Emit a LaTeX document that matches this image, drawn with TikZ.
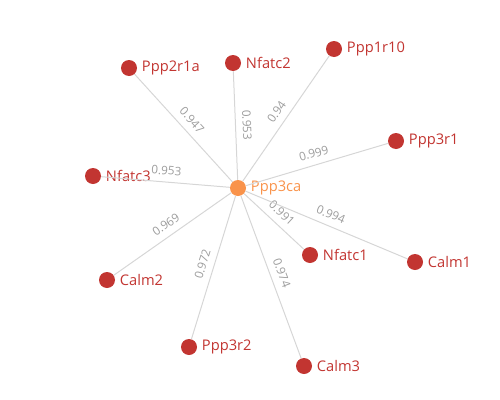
\documentclass[tikz,border=0pt]{standalone}
\usepackage{fontspec}
\setmainfont{Open Sans}
\definecolor{genered}{HTML}{C23531}
\definecolor{huborange}{HTML}{F9934B}
\definecolor{edgegray}{HTML}{D6D6D6}
\definecolor{weightgray}{HTML}{9C9C9C}
\tikzset{
	gene/.style = {circle, fill = genered, minimum size = 12pt, inner sep = 0pt, label distance = 0.8pt},
	hub/.style = {gene, fill = huborange},
	genelabel/.style = {text = genered, font = \fontsize{11}{13}\selectfont},
	link/.style = {edgegray, line width = 0.75pt},
	weight/.style = {midway, sloped, above = 2pt, inner sep = 3pt, text = weightgray, font = \fontsize{8.8}{10}\selectfont}
}
\begin{document}
\begin{tikzpicture} [x = 0.75pt, y = -0.75pt, every label/.style = genelabel]
	\useasboundingbox (0,0) rectangle (500,400);
	\node [hub, label = {[text = huborange]right:Ppp3ca}] (ppp3ca) at (238,188) {};
	\node [gene, label = {right:Ppp2r1a}] (ppp2r1a) at (129,68) {};
	\node [gene, label = {right:Nfatc2}] (nfatc2) at (233,63) {};
	\node [gene, label = {right:Ppp1r10}] (ppp1r10) at (334,49) {};
	\node [gene, label = {right:Ppp3r1}] (ppp3r1) at (396,141) {};
	\node [gene, label = {right:Nfatc3}] (nfatc3) at (93,176) {};
	\node [gene, label = {right:Calm2}] (calm2) at (107,280) {};
	\node [gene, label = {right:Ppp3r2}] (ppp3r2) at (189,347) {};
	\node [gene, label = {right:Calm3}] (calm3) at (304,366) {};
	\node [gene, label = {right:Nfatc1}] (nfatc1) at (310,255) {};
	\node [gene, label = {right:Calm1}] (calm1) at (415,262) {};
	\draw [link] (ppp2r1a) -- node [weight] {0.947} (ppp3ca);
	\draw [link] (nfatc2) -- node [weight] {0.953} (ppp3ca);
	\draw [link] (ppp3ca) -- node [weight] {0.94} (ppp1r10);
	\draw [link] (ppp3ca) -- node [weight] {0.999} (ppp3r1);
	\draw [link] (nfatc3) -- node [weight] {0.953} (ppp3ca);
	\draw [link] (calm2) -- node [weight] {0.969} (ppp3ca);
	\draw [link] (ppp3r2) -- node [weight] {0.972} (ppp3ca);
	\draw [link] (ppp3ca) -- node [weight] {0.974} (calm3);
	\draw [link] (ppp3ca) -- node [weight] {0.991} (nfatc1);
	\draw [link] (ppp3ca) -- node [weight] {0.994} (calm1);
\end{tikzpicture}
\end{document}
